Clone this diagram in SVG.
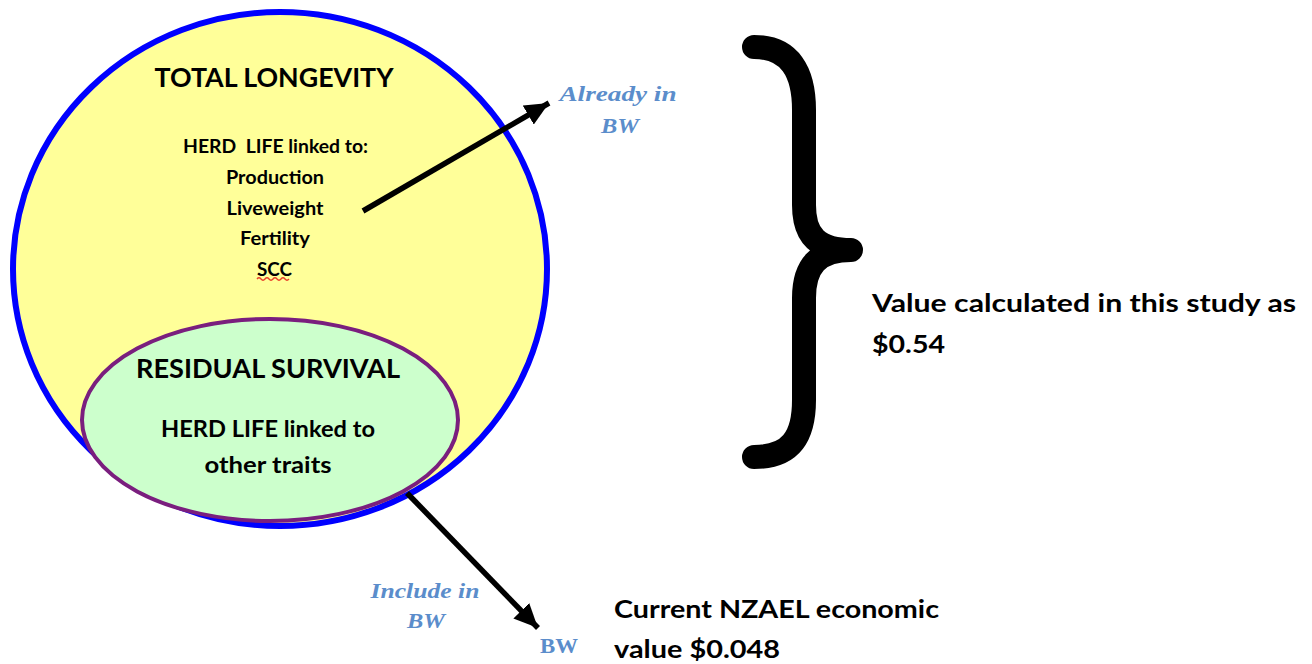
<svg xmlns="http://www.w3.org/2000/svg" width="1312" height="664" viewBox="0 0 1312 664">
<defs>
<style>
.b{font-family:Lato,"Liberation Sans",sans-serif;font-weight:bold;fill:#000}
.s{font-family:"Liberation Serif",serif;font-weight:bold;fill:#5B8DCB}
.i{font-style:italic}
.arr{stroke:#000;stroke-width:5.5;fill:none}
</style>
<marker id="ah" markerUnits="userSpaceOnUse" markerWidth="26" markerHeight="22" refX="24" refY="11" orient="auto">
<path d="M0,0 L24,11 L0,22 Z" fill="#000"/>
</marker>
</defs>
<rect width="1312" height="664" fill="#fff"/>
<g id="total-longevity">
<ellipse cx="280" cy="269" rx="267" ry="257" fill="#FFFF99" stroke="#0000FF" stroke-width="6"/>
<text class="b" x="274" y="87" font-size="27" text-anchor="middle" textLength="239" lengthAdjust="spacingAndGlyphs">TOTAL LONGEVITY</text>
<text class="b" x="275.5" y="153" font-size="18" text-anchor="middle" textLength="185" lengthAdjust="spacingAndGlyphs" xml:space="preserve">HERD  LIFE linked to:</text>
<text class="b" x="275" y="184" font-size="18" text-anchor="middle" textLength="98" lengthAdjust="spacingAndGlyphs">Production</text>
<text class="b" x="275" y="215" font-size="18" text-anchor="middle" textLength="97" lengthAdjust="spacingAndGlyphs">Liveweight</text>
<text class="b" x="275" y="245" font-size="18" text-anchor="middle" textLength="70" lengthAdjust="spacingAndGlyphs">Fertility</text>
<text class="b" x="274.5" y="276" font-size="18" text-anchor="middle" textLength="35" lengthAdjust="spacingAndGlyphs">SCC</text>
<path d="M257,279 q2,-2.5 4,0 t4,0 t4,0 t4,0 t4,0 t4,0 t4,0 t4,0" fill="none" stroke="#E8402A" stroke-width="1.3"/>
</g>
<g id="residual-survival">
<ellipse cx="270" cy="420" rx="188" ry="101" fill="#CCFFCC" stroke="#7A1E7E" stroke-width="4"/>
<text class="b" x="268" y="378" font-size="27" text-anchor="middle" textLength="264" lengthAdjust="spacingAndGlyphs">RESIDUAL SURVIVAL</text>
<text class="b" x="268" y="437" font-size="22" text-anchor="middle" textLength="214" lengthAdjust="spacingAndGlyphs">HERD LIFE linked to</text>
<text class="b" x="268" y="473" font-size="22" text-anchor="middle" textLength="127" lengthAdjust="spacingAndGlyphs">other traits</text>
</g>
<g id="connectors">
<line class="arr" x1="363" y1="211" x2="549" y2="103" marker-end="url(#ah)"/>
<line class="arr" x1="407" y1="493" x2="538" y2="628" marker-end="url(#ah)"/>
</g>
<g id="already-in-bw">
<text class="s i" x="618" y="101" font-size="21" text-anchor="middle" textLength="117" lengthAdjust="spacingAndGlyphs">Already in</text>
<text class="s i" x="620" y="133" font-size="21" text-anchor="middle" textLength="38" lengthAdjust="spacingAndGlyphs">BW</text>
</g>
<g id="include-in-bw">
<text class="s i" x="425" y="598" font-size="21" text-anchor="middle" textLength="109" lengthAdjust="spacingAndGlyphs">Include in</text>
<text class="s i" x="426" y="628" font-size="21" text-anchor="middle" textLength="38" lengthAdjust="spacingAndGlyphs">BW</text>
</g>
<g id="bw">
<text class="s" x="559" y="653" font-size="20" font-weight="normal" text-anchor="middle" textLength="38" lengthAdjust="spacingAndGlyphs">BW</text>
</g>
<g id="brace">
<path d="M754,47 C790,47 804,72 804,110 L804,205 C804,236 818,250 851,250 C818,250 804,266 804,298 L804,400 C804,438 790,457 754,457" fill="none" stroke="#000" stroke-width="24" stroke-linecap="round" stroke-linejoin="round"/>
</g>
<g id="value-study">
<text class="b" x="872" y="312" font-size="25.5" textLength="424" lengthAdjust="spacingAndGlyphs">Value calculated in this study as</text>
<text class="b" x="872" y="353" font-size="25.5" textLength="73" lengthAdjust="spacingAndGlyphs">$0.54</text>
</g>
<g id="nzael-value">
<text class="b" x="614" y="618" font-size="24.5" textLength="325" lengthAdjust="spacingAndGlyphs">Current NZAEL economic</text>
<text class="b" x="614" y="658" font-size="24.5" textLength="166" lengthAdjust="spacingAndGlyphs">value $0.048</text>
</g>
</svg>
